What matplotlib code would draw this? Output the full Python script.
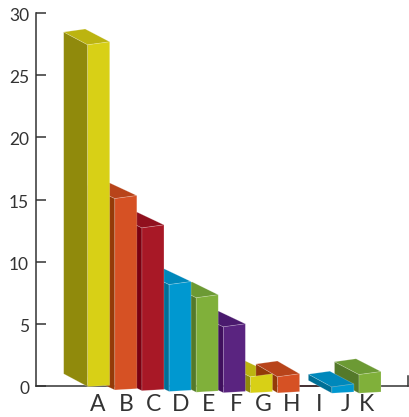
#!/usr/bin/env python3
import matplotlib
matplotlib.use("Agg")
import matplotlib.pyplot as plt
from matplotlib.patches import Polygon
from matplotlib.transforms import ScaledTranslation

plt.rcParams["font.family"] = ["Lato", "DejaVu Sans"]

categories = ["A", "B", "C", "D", "E", "F", "G", "H", "I", "J", "K"]
values = [27.5, 15.4, 13.1, 8.6, 7.6, 5.3, 1.3, 1.3, 0, 0.5, 1.5]
front_colors = ["#d8d016", "#d65124", "#a81826", "#0098d0", "#80b03a", "#5a2480",
                "#d8d016", "#d65124", "#7a1020", "#0098d0", "#80b03a"]
side_colors = ["#908a0c", "#933a08", "#7a0010", "#006f96", "#54792a", "#40105e",
               "#908a0c", "#933a08", "#7a0010", "#006f96", "#54792a"]
top_colors = ["#bcb410", "#b8441a", "#90101e", "#0088bb", "#6c9a34", "#4a1a6e",
              "#bcb410", "#b8441a", "#90101e", "#0088bb", "#6c9a34"]
# the baseline sags a little going right, it is a perspective thing
sag = [0.05, 0.32, 0.38, 0.44, 0.5, 0.54, 0.56, 0.56, 0.58, 0.58, 0.58]
# how far each bar runs back, in pixels
depth_px = [24, 27, 26.5, 26.5, 25.5, 26.5, 26.5, 21.7, 23.5, 23.5, 24.5]
label_pos = [0.38, 1.41, 2.41, 3.44, 4.45, 5.48, 6.48, 7.5, 8.52, 9.52, 10.26]
yticks = [0, 5, 10, 15, 20, 25, 30]

W, H = 409, 417
PX_X = 27.13   # pixels per category
PX_Y = 12.43   # pixels per unit
X0 = 87.7      # pixel of the first bar front
Y0 = 386.0     # pixel of value 0

bar_w = 22 / PX_X
back_w = 21.5 / PX_X
depth_y = 12.8 / PX_Y
rise_top = 3 / PX_Y
rise_bot = 1.3 / PX_Y


def faces(i):
    b = -sag[i]
    t = values[i] + b
    back = i - depth_px[i] / PX_X
    fl_t, fr_t = (i, t), (i + bar_w, t + rise_top)
    fl_b, fr_b = (i, b), (i + bar_w, b + rise_bot)
    bl_t = (back, t + depth_y)
    br_t = (back + back_w, t + rise_top + depth_y)
    bl_b = (back, b + depth_y)
    return (
        ([fl_t, bl_t, bl_b, fl_b], side_colors[i]),
        ([fl_t, bl_t, br_t, fr_t], top_colors[i]),
        ([fl_b, fr_b, fr_t, fl_t], front_colors[i]),
    )


def draw(ax, i, which=(0, 1, 2)):
    f = faces(i)
    for k in which:
        ax.add_patch(Polygon(f[k][0], closed=True, facecolor=f[k][1],
                             edgecolor="#ffffff40", lw=0.5, zorder=3))


fig = plt.figure(figsize=(W / 100, H / 100), dpi=100)
ax = fig.add_axes([0, 0, 1, 1])
ax.patch.set_alpha(0)
ax.set_xlim(-X0 / PX_X, (W - X0) / PX_X)
ax.set_ylim((Y0 - H) / PX_Y, Y0 / PX_Y)

axis_x = (36 - X0) / PX_X
right_x = (408 - X0) / PX_X
for s in ["top", "right"]:
    ax.spines[s].set_visible(False)
ax.spines["left"].set_position(("data", axis_x))
ax.spines["left"].set_bounds(0, 30)
ax.spines["bottom"].set_position(("data", 0))
ax.spines["bottom"].set_bounds(axis_x, right_x)
for s in ["left", "bottom"]:
    ax.spines[s].set_color("#333333")
    ax.spines[s].set_linewidth(1.1)
ax.set_yticks(yticks)
ax.tick_params(axis="y", direction="in", length=7, width=1.1, color="#333333",
               labelcolor="#333333", labelsize=12.5, pad=5)
ax.set_xticks(label_pos)
ax.set_xticklabels(categories)
ax.tick_params(axis="x", length=0, labelcolor="#333333", labelsize=16.5, pad=6)
ax.plot([right_x, right_x], [0, 10 / PX_Y], color="#333333", lw=1.1, zorder=2)

# y labels sit slightly under their ticks in the original
nudge = ScaledTranslation(0, -1.5 / 100, fig.dpi_scale_trans)
for lab in ax.get_yticklabels():
    lab.set_transform(lab.get_transform() + nudge)

# I is zero, it only shows as a dark red line on the axis
ax.plot([8 - 0.21, 8 + 0.6], [0, 0], color=front_colors[8], lw=1.2, zorder=2.5)

# paint right to left, G and H overlap in a special way
for i in [10, 9]:
    draw(ax, i)
draw(ax, 6, (0, 1))
draw(ax, 7)
draw(ax, 6, (2,))
for i in [5, 4, 3, 2, 1, 0]:
    draw(ax, i)

fig.savefig("out.png", dpi=100)
